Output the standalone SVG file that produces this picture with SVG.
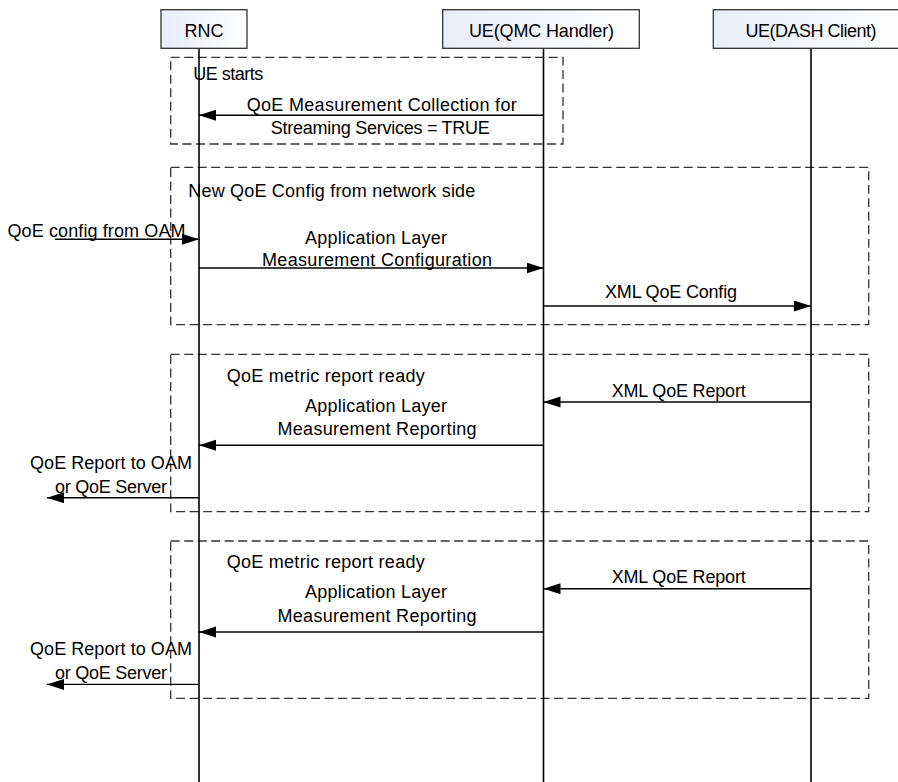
<svg xmlns="http://www.w3.org/2000/svg" width="898" height="782" viewBox="0 0 898 782">
  <style>
    .hdr { fill: url(#hdrFill); stroke: #333333; stroke-width: 1.3; }
    .life { stroke: #000000; stroke-width: 1.6; fill: none; }
    .frame { fill: none; stroke: #333333; stroke-width: 1.3; stroke-dasharray: 9 4.5; }
    .msg { stroke: #000000; stroke-width: 1.4; fill: none; marker-end: url(#arrow); }
    text { font-family: "Liberation Sans", Arial, sans-serif; font-size: 18px; fill: #000000; }
    .mid { text-anchor: middle; }
  </style>
  <defs>
    <linearGradient id="hdrFill" x1="0" y1="0" x2="1" y2="0">
      <stop offset="0" stop-color="#e9edf9"/>
      <stop offset="1" stop-color="#ffffff"/>
    </linearGradient>
    <marker id="arrow" markerUnits="userSpaceOnUse" markerWidth="18" markerHeight="12" refX="17" refY="5.5" orient="auto">
      <path d="M0,0 L17,5.5 L0,11 Z" fill="#000000"/>
    </marker>
  </defs>
  <rect width="898" height="782" fill="#ffffff"/>

  <!-- frames -->
  <g id="frame-ue-starts">
    <rect class="frame" x="170.7" y="57.3" width="392.3" height="86.7"/>
    <text x="193.3" y="79.5" textLength="70" lengthAdjust="spacing">UE starts</text>
  </g>
  <g id="frame-new-config">
    <rect class="frame" x="170.7" y="167.3" width="698" height="157.4"/>
    <text x="188.3" y="197" textLength="287" lengthAdjust="spacing">New QoE Config from network side</text>
  </g>
  <g id="frame-report-1">
    <rect class="frame" x="170.7" y="354.3" width="698" height="157.4"/>
    <text x="226.7" y="381.5" textLength="198" lengthAdjust="spacing">QoE metric report ready</text>
  </g>
  <g id="frame-report-2">
    <rect class="frame" x="170.7" y="541" width="698" height="157.4"/>
    <text x="226.7" y="568.2" textLength="198" lengthAdjust="spacing">QoE metric report ready</text>
  </g>

  <!-- lifelines / participants -->
  <g id="rnc">
    <line class="life" x1="199" y1="48" x2="199" y2="782"/>
    <rect class="hdr" x="161" y="9.7" width="86" height="38.6"/>
    <text class="mid" x="204" y="36.5">RNC</text>
  </g>
  <g id="ue-qmc">
    <line class="life" x1="543.5" y1="48" x2="543.5" y2="782"/>
    <rect class="hdr" x="442.7" y="9.7" width="196.6" height="38.6"/>
    <text class="mid" x="541.5" y="36.5" textLength="145" lengthAdjust="spacing">UE(QMC Handler)</text>
  </g>
  <g id="ue-dash">
    <line class="life" x1="811" y1="48" x2="811" y2="782"/>
    <rect class="hdr" x="713.3" y="9.7" width="196" height="38.6"/>
    <text class="mid" x="811" y="36.5" textLength="131" lengthAdjust="spacing">UE(DASH Client)</text>
  </g>

  <!-- connectors -->
  <g id="connectors">
    <line class="msg" x1="543.5" y1="115.3" x2="199" y2="115.3"/>
    <line class="msg" x1="55" y1="239.3" x2="199" y2="239.3"/>
    <line class="msg" x1="199" y1="268" x2="543.5" y2="268"/>
    <line class="msg" x1="543.5" y1="306" x2="811" y2="306"/>
    <line class="msg" x1="811" y1="402" x2="543.5" y2="402"/>
    <line class="msg" x1="543.5" y1="445.3" x2="199" y2="445.3"/>
    <line class="msg" x1="199" y1="497.7" x2="47" y2="497.7"/>
    <line class="msg" x1="811" y1="588.7" x2="543.5" y2="588.7"/>
    <line class="msg" x1="543.5" y1="632" x2="199" y2="632"/>
    <line class="msg" x1="199" y1="684.4" x2="47" y2="684.4"/>
  </g>

  <!-- connector labels -->
  <g id="labels">
    <text class="mid" x="381.7" y="110.5" textLength="270" lengthAdjust="spacing">QoE Measurement Collection for</text>
    <text class="mid" x="380.3" y="134" textLength="219" lengthAdjust="spacing">Streaming Services = TRUE</text>

    <text x="7.5" y="236.5" textLength="178" lengthAdjust="spacing">QoE config from OAM</text>
    <text class="mid" x="376" y="243.5" textLength="142" lengthAdjust="spacing">Application Layer</text>
    <text class="mid" x="377" y="265.5" textLength="230" lengthAdjust="spacing">Measurement Configuration</text>
    <text class="mid" x="671" y="297.8" textLength="132" lengthAdjust="spacing">XML QoE Config</text>

    <text class="mid" x="678.7" y="396.5" textLength="134" lengthAdjust="spacing">XML QoE Report</text>
    <text class="mid" x="376" y="411.5" textLength="142" lengthAdjust="spacing">Application Layer</text>
    <text class="mid" x="377" y="435" textLength="199" lengthAdjust="spacing">Measurement Reporting</text>
    <text class="mid" x="111" y="468.5" textLength="162" lengthAdjust="spacing">QoE Report to OAM</text>
    <text class="mid" x="111" y="492.5" textLength="112" lengthAdjust="spacing">or QoE Server</text>

    <text class="mid" x="678.7" y="583.2" textLength="134" lengthAdjust="spacing">XML QoE Report</text>
    <text class="mid" x="376" y="598.2" textLength="142" lengthAdjust="spacing">Application Layer</text>
    <text class="mid" x="377" y="621.7" textLength="199" lengthAdjust="spacing">Measurement Reporting</text>
    <text class="mid" x="111" y="655.2" textLength="162" lengthAdjust="spacing">QoE Report to OAM</text>
    <text class="mid" x="111" y="679.2" textLength="112" lengthAdjust="spacing">or QoE Server</text>
  </g>
</svg>
